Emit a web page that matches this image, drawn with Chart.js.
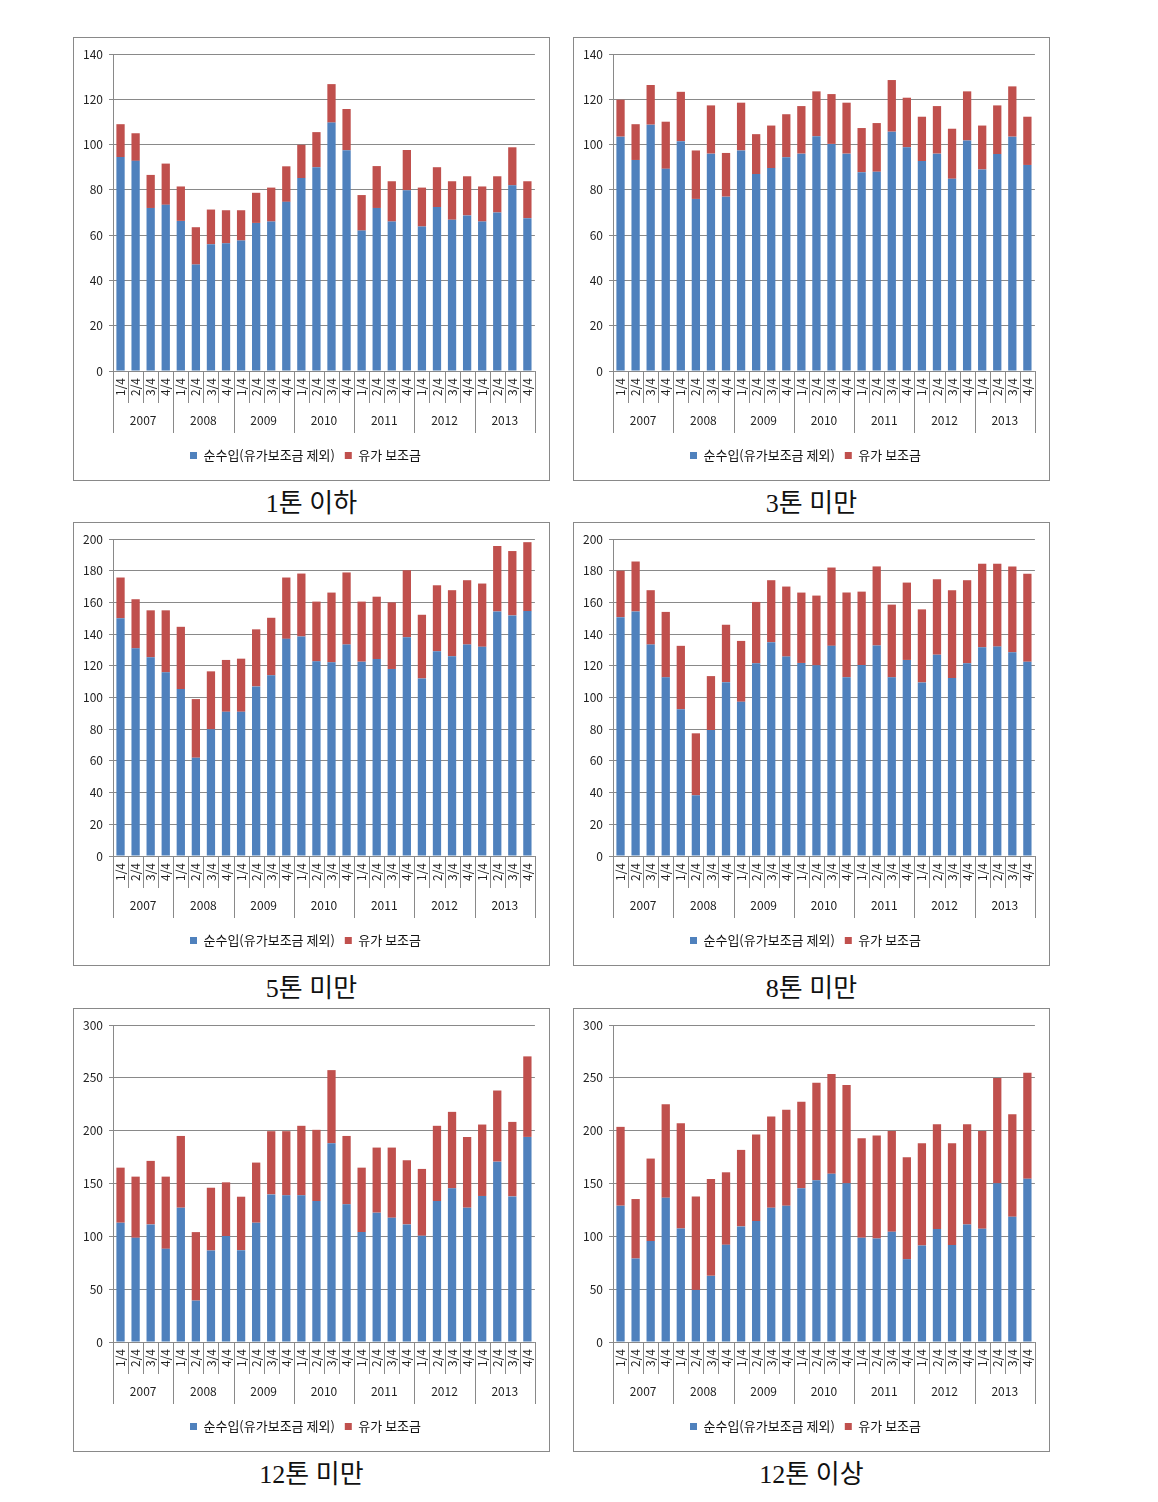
<!DOCTYPE html>
<html>
<head>
<meta charset="utf-8">
<script src="https://cdn.jsdelivr.net/npm/chart.js@4.4.1/dist/chart.umd.min.js"></script>
<style>
  body { margin: 0; background: #fff; }
  #page { position: relative; width: 1158px; height: 1502px; }
  .box { position: absolute; width: 477px; height: 444px; border: 1px solid #898989; box-sizing: border-box; }
  .cap { position: absolute; width: 477px; height: 34px; line-height: 34px; text-align: center;
         font-family: "Liberation Serif", "DejaVu Serif", "Noto Sans CJK KR", serif; font-size: 26px; color: #111; }
</style>
</head>
<body>
<div id="page"></div>
<script>
// categories
var quarters = [];
var years = ["2007", "2008", "2009", "2010", "2011", "2012", "2013"];
years.forEach(function () { quarters.push("1/4", "2/4", "3/4", "4/4"); });

var seriesNames = ["순수입(유가보조금 제외)", "유가 보조금"];

// 1톤 이하
var net1 = [94.5, 92.8, 72, 73.4, 66.3, 47, 56, 56.4, 57.6, 65.4, 66, 74.7, 85.2, 90, 109.7, 97.5, 62, 72, 66, 79.8, 63.8, 72.4, 66.8, 68.7, 66, 70, 82, 67.5];
var sub1 = [14.5, 12.2, 14.6, 18.2, 15.2, 16.5, 15.3, 14.6, 13.4, 13.3, 15, 15.7, 14.7, 15.5, 17, 18.2, 15.7, 18.5, 17.8, 17.8, 17.2, 17.6, 17, 17.3, 15.5, 16, 16.8, 16.3];
// 3톤 미만
var net2 = [103.5, 93.2, 108.8, 89.3, 101.5, 76, 96, 77, 97.4, 87, 89.6, 94.4, 96, 103.7, 100.3, 96, 87.8, 88, 105.7, 98.8, 92.7, 96, 84.9, 101.8, 89, 95.8, 103.5, 91];
var sub2 = [16.3, 15.8, 17.5, 20.8, 21.8, 21.4, 21.3, 19.3, 21.1, 17.6, 18.8, 19, 21, 19.8, 22, 22.5, 19.5, 21.5, 22.8, 21.9, 19.6, 21, 22.1, 21.7, 19.4, 21.5, 22.2, 21.3];
// 5톤 미만
var net3 = [150, 131, 125.4, 115.9, 105.3, 62, 80, 91, 91, 107, 114, 137, 138.5, 122.8, 122.2, 133.4, 122.6, 124.3, 118, 138, 112, 129.2, 126, 133.4, 132, 154.3, 151.8, 154.5];
var sub3 = [25.7, 31, 29.6, 39.1, 39.3, 37, 36.5, 32.7, 33.5, 36, 36.3, 38.7, 39.7, 37.7, 44, 45.5, 37.9, 39.3, 42, 42.3, 40.2, 41.6, 41.7, 40.6, 39.9, 41.3, 40.6, 43.5];
// 8톤 미만
var net4 = [150.7, 154.3, 133.4, 112.7, 92.6, 38.3, 79.5, 109.7, 97.3, 121.6, 134.9, 125.8, 121.8, 120.3, 132.6, 112.7, 120.5, 132.8, 112.7, 123.7, 109.5, 127, 112.3, 121.6, 131.7, 132.1, 128.5, 122.6];
var sub4 = [29.3, 31.5, 34.3, 41.3, 40, 39.1, 34, 36.2, 38.4, 38.7, 39.1, 44.2, 44.4, 44, 49.4, 53.5, 46.3, 49.9, 45.9, 48.8, 46.1, 47.6, 55.4, 52.4, 52.7, 52.3, 54.2, 55.4];
// 12톤 미만
var net5 = [112.9, 98.6, 111.3, 88.2, 127.1, 39.2, 86.6, 100.2, 86.9, 112.9, 139.7, 138.8, 138.8, 133.4, 188.1, 130.3, 104, 122.4, 117.6, 111.3, 100.5, 133.4, 145.4, 127.1, 138.2, 170.7, 137.8, 194.1];
var sub5 = [52.1, 57.9, 60.1, 68.3, 67.9, 64.8, 59.4, 50.9, 50.6, 56.9, 59.8, 60.7, 65.8, 67.4, 69.2, 64.7, 61, 61.6, 66.4, 60.7, 63.3, 71.2, 72.4, 66.9, 67.6, 67.3, 70.5, 76.2];
// 12톤 이상
var net6 = [129, 79, 95.5, 136.6, 107.5, 49.3, 62.6, 92, 109.4, 114.4, 127.1, 129, 145.4, 153, 159.3, 150.2, 98.6, 98, 104.3, 78.4, 91.4, 106.9, 91.7, 111.3, 107.2, 150.2, 118.6, 154.6];
var sub6 = [74.6, 56.3, 78.1, 88.5, 99.5, 88.5, 91.7, 68.6, 72.4, 81.9, 86.3, 90.7, 81.9, 92.3, 94.3, 92.9, 94.3, 97.4, 95.5, 96.4, 96.7, 99.2, 96.4, 94.8, 92.6, 99.6, 97, 100.3];

var panels = [
  { title: "1톤 이하", net: net1, sub: sub1, max: 140, step: 20, left: 73, top: 37 },
  { title: "3톤 미만", net: net2, sub: sub2, max: 140, step: 20, left: 573, top: 37 },
  { title: "5톤 미만", net: net3, sub: sub3, max: 200, step: 20, left: 73, top: 522 },
  { title: "8톤 미만", net: net4, sub: sub4, max: 200, step: 20, left: 573, top: 522 },
  { title: "12톤 미만", net: net5, sub: sub5, max: 300, step: 50, left: 73, top: 1008 },
  { title: "12톤 이상", net: net6, sub: sub6, max: 300, step: 50, left: 573, top: 1008 }
];

var gridColor = "#898989";
var tickFont = { family: "'Noto Sans CJK KR', 'Liberation Sans', sans-serif", size: 12 };

// quarter / year separator lines below the axis (Excel style)
var separators = {
  id: "separators",
  afterDraw: function (chart) {
    var x = chart.scales.x, ctx = chart.ctx;
    var half = (x.getPixelForValue(1) - x.getPixelForValue(0)) / 2;
    ctx.save();
    ctx.strokeStyle = gridColor;
    ctx.lineWidth = 1;
    ctx.beginPath();
    for (var i = 0; i <= quarters.length; i++) {
      var px = Math.round(x.getPixelForValue(i) - half) + 0.5;
      ctx.moveTo(px, x.top);
      ctx.lineTo(px, i % 4 === 0 ? x.bottom + 30 : x.bottom);
    }
    ctx.stroke();
    ctx.restore();
  }
};

var page = document.getElementById("page");

panels.forEach(function (p) {
  var box = document.createElement("div");
  box.className = "box";
  box.style.left = p.left + "px";
  box.style.top = p.top + "px";
  var canvas = document.createElement("canvas");
  canvas.width = 475;
  canvas.height = 442;
  box.appendChild(canvas);
  page.appendChild(box);

  var cap = document.createElement("div");
  cap.className = "cap";
  cap.style.left = p.left + "px";
  cap.style.top = (p.top + 450) + "px";
  cap.textContent = p.title;
  page.appendChild(cap);

  new Chart(canvas.getContext("2d"), {
    type: "bar",
    data: {
      labels: quarters,
      datasets: [
        { label: seriesNames[0], data: p.net, backgroundColor: "#4F81BD", barPercentage: 0.55, categoryPercentage: 1 },
        { label: seriesNames[1], data: p.sub, backgroundColor: "#C0504D", barPercentage: 0.55, categoryPercentage: 1 }
      ]
    },
    options: {
      responsive: false,
      animation: false,
      layout: { padding: { left: 0, right: 12, top: 16, bottom: 8 } },
      plugins: {
        tooltip: { enabled: false },
        legend: {
          position: "bottom",
          labels: {
            boxWidth: 7, boxHeight: 7, padding: 10, color: "#111",
            font: { family: "'Noto Sans CJK KR', sans-serif", size: 13 }
          }
        }
      },
      scales: {
        x: {
          stacked: true,
          grid: { display: false, drawTicks: false },
          border: { display: false },
          ticks: { autoSkip: false, minRotation: 90, maxRotation: 90, padding: 7, color: "#222", font: tickFont },
          afterFit: function (s) { s.height = 32; }
        },
        year: {
          type: "category",
          labels: years,
          position: "bottom",
          weight: 1,
          offset: true,
          grid: { display: false, drawTicks: false },
          border: { display: false },
          ticks: { padding: 10, color: "#222", font: tickFont },
          afterFit: function (s) { s.height = 36; }
        },
        y: {
          stacked: true,
          min: 0,
          max: p.max,
          grid: { color: gridColor, tickLength: 4 },
          border: { display: true, color: gridColor },
          ticks: { stepSize: p.step, padding: 6, color: "#222", font: tickFont },
          afterFit: function (s) { s.width = 39; }
        }
      }
    },
    plugins: [separators]
  });
});
</script>
</body>
</html>
